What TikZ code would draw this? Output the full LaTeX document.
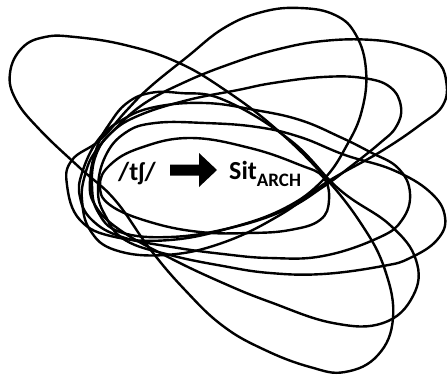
\documentclass[tikz,border=0pt]{standalone}
\usepackage{fontspec}
\setmainfont{Carlito}
\begin{document}
\begin{tikzpicture}[x=1pt,y=-1pt,
  loopline/.style={draw=black,line width=2.4pt},
  lbl/.style={font=\bfseries\fontsize{26}{30}\selectfont,inner sep=0pt,anchor=base west}]
\useasboundingbox (0,0) rectangle (447,376);
% L1 big top-left / bottom loop
\draw[loopline] plot[smooth cycle,tension=0.7] coordinates {(10,73) (22,48) (45,37) (75,37) (125,45) (177,62) (225,90) (275,128) (323,175) (362,225) (385,270) (393,318) (378,355) (345,372) (310,367) (265,350) (223,326) (185,290) (150,249) (115,200) (80,168) (40,130) (16,100)};
% L2 tall loop
\draw[loopline] plot[smooth cycle,tension=0.7] coordinates {(67,185) (72,160) (100,140) (127,110) (150,87) (187,57) (224,28) (262,12) (300,8) (335,15) (356,35) (366,70) (362,110) (347,145) (323,180) (285,208) (230,228) (170,240) (115,237) (80,220)};
% L3 upper right loop
\draw[loopline] plot[smooth cycle,tension=0.7] coordinates {(82,200) (85,175) (95,152) (117,127) (145,103) (185,82) (230,64) (275,50) (323,41) (373,40) (410,47) (436,60) (446,80) (443,105) (420,125) (380,152) (327,182) (280,215) (222,243) (165,255) (115,250) (90,230)};
% L4
\draw[loopline] plot[smooth cycle,tension=0.7] coordinates {(92,185) (96,155) (112,132) (140,115) (188,100) (238,90) (273,83) (323,77) (363,78) (390,87) (401,107) (396,127) (380,143) (350,167) (323,187) (285,210) (230,228) (170,237) (120,232) (98,212)};
% L5
\draw[loopline] plot[smooth cycle,tension=0.7] coordinates {(80,197) (82,173) (98,140) (122,120) (155,107) (205,103) (255,110) (300,120) (340,137) (370,152) (398,168) (410,193) (402,220) (378,238) (323,256) (270,258) (223,254) (172,247) (122,237) (92,220)};
% L6
\draw[loopline] plot[smooth cycle,tension=0.7] coordinates {(98,190) (105,157) (125,133) (155,123) (205,123) (257,127) (300,137) (345,155) (393,170) (430,192) (445,217) (437,240) (410,258) (383,266) (323,274) (270,273) (223,266) (170,255) (125,240) (105,215)};
% L7 lower right loop
\draw[loopline] plot[smooth cycle,tension=0.7] coordinates {(90,180) (97,147) (110,123) (127,103) (150,93) (180,93) (224,100) (290,140) (340,190) (390,225) (416,260) (413,296) (383,323) (333,323) (270,302) (223,283) (170,258) (120,230) (95,205)};
% L8 small loop
\draw[loopline] plot[smooth cycle,tension=0.7] coordinates {(329,200) (320,220) (290,230) (250,233) (200,232) (150,222) (110,205) (100,185) (110,165) (140,148) (190,138) (250,148) (300,165) (323,177)};
% text
\node[lbl] (src) at (118,180) {/tʃ/};
\fill (170,164.5) -- (199,164.5) -- (199,153) -- (217,170) -- (199,187) -- (199,175.5) -- (170,175.5) -- cycle;
\node[lbl] (dst) at (229,179) {Sit\raisebox{-7pt}{\fontsize{19}{22}\selectfont ARCH}};
\end{tikzpicture}
\end{document}
